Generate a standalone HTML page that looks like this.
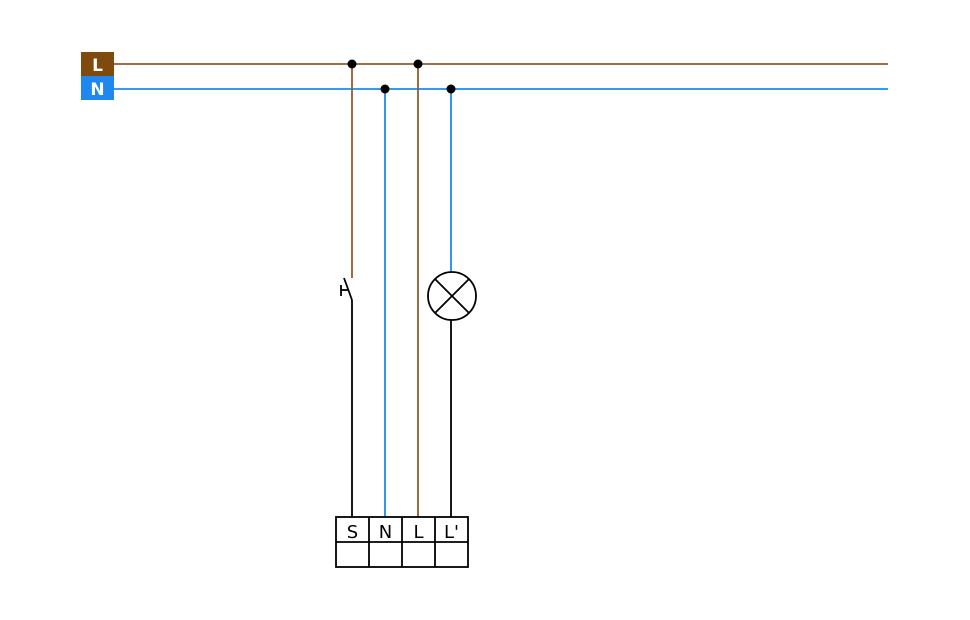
<!DOCTYPE html>
<html><head><meta charset="utf-8"><style>
html,body{margin:0;padding:0;background:#fff;}
svg{display:block;}
</style></head><body>
<svg width="970" height="620" viewBox="0 0 970 620" xmlns="http://www.w3.org/2000/svg">
<rect x="81" y="52" width="33" height="24" fill="#804a0e"/>
<rect x="81" y="76" width="33" height="24" fill="#1e88f0"/>
<text x="97.5" y="71" font-family="DejaVu Sans, sans-serif" font-size="17" font-weight="bold" fill="#fff" text-anchor="middle">L</text>
<text x="97.5" y="95" font-family="DejaVu Sans, sans-serif" font-size="17" font-weight="bold" fill="#fff" text-anchor="middle">N</text>
<g stroke-width="1.8" fill="none">
<line x1="114" y1="64" x2="888" y2="64" stroke="#955c2a"/>
<line x1="114" y1="89" x2="888" y2="89" stroke="#1e88f0"/>
<line x1="352" y1="64" x2="352" y2="278" stroke="#955c2a"/>
<line x1="418" y1="64" x2="418" y2="517" stroke="#955c2a"/>
<line x1="385" y1="89" x2="385" y2="517" stroke="#1e88f0"/>
<line x1="451" y1="89" x2="451" y2="272" stroke="#1e88f0"/>
</g>
<g stroke="#000" stroke-width="1.8" fill="none">
<line x1="344" y1="278" x2="352" y2="300"/>
<line x1="352" y1="300" x2="352" y2="517"/>
<line x1="341" y1="290" x2="348" y2="290"/>
<line x1="341" y1="285" x2="341" y2="296"/>
<circle cx="452" cy="296" r="24"/>
<line x1="435" y1="279" x2="469" y2="313"/>
<line x1="469" y1="279" x2="435" y2="313"/>
<line x1="451" y1="320" x2="451" y2="517"/>
<rect x="336" y="517" width="132" height="50"/>
<line x1="336" y1="542" x2="468" y2="542"/>
<line x1="369" y1="517" x2="369" y2="567"/>
<line x1="402" y1="517" x2="402" y2="567"/>
<line x1="435" y1="517" x2="435" y2="567"/>
</g>
<g fill="#000">
<circle cx="352" cy="64" r="4.5"/>
<circle cx="418" cy="64" r="4.5"/>
<circle cx="385" cy="89" r="4.5"/>
<circle cx="451" cy="89" r="4.5"/>
</g>
<g font-family="DejaVu Sans, sans-serif" font-size="18" fill="#000" text-anchor="middle">
<text x="352.5" y="538">S</text>
<text x="385.5" y="538">N</text>
<text x="418.5" y="538">L</text>
<text x="451.5" y="538">L'</text>
</g>
</svg>
</body></html>
